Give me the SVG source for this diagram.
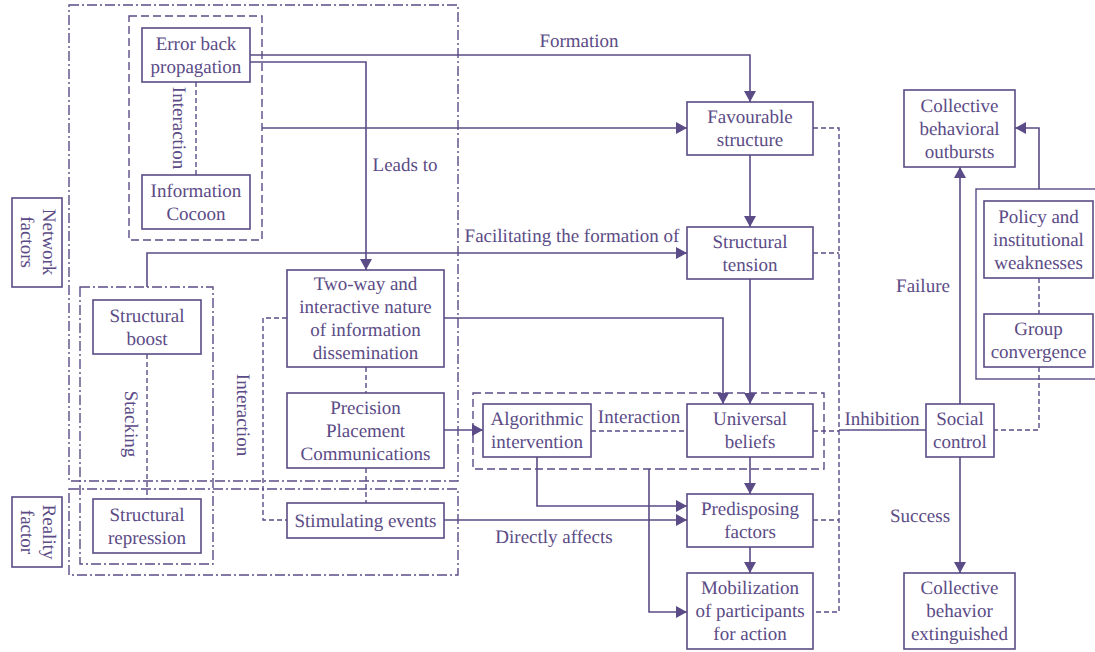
<svg xmlns="http://www.w3.org/2000/svg" width="1095" height="652" viewBox="0 0 1095 652" font-family="Liberation Serif, Times New Roman, serif">
<defs>
<marker id="arr" markerUnits="userSpaceOnUse" markerWidth="11" markerHeight="12" refX="11" refY="6" orient="auto">
<path d="M0,0 L11,6 L0,12 z" fill="#5b4b86"/>
</marker>
<style>
text{font-family:"Liberation Serif","Times New Roman",serif;font-size:19px;fill:#5b4b86;text-anchor:middle;text-rendering:geometricPrecision}
.box{fill:#fff;stroke:#5b4b86;stroke-width:1.6}
.grp{fill:none;stroke:#5b4b86;stroke-width:1.4}
.dd{stroke-dasharray:10 3 2 3}
.ds{stroke-dasharray:8 4}
.ln{fill:none;stroke:#5b4b86;stroke-width:1.6}
.dl{fill:none;stroke:#5b4b86;stroke-width:1.4;stroke-dasharray:5 3}
.ar{marker-end:url(#arr)}
</style>
</defs>
<rect width="1095" height="652" fill="#fff"/>

<g id="groups">
<rect class="grp dd" x="69" y="5" width="389" height="476"/>
<rect class="grp dd" x="69" y="489" width="389" height="86"/>
<rect class="grp dd" x="80" y="287" width="133" height="277"/>
<rect class="grp ds" x="129" y="16" width="133" height="224"/>
<rect class="grp ds" x="473" y="393" width="351" height="76"/>
<rect class="grp" x="976" y="189" width="130" height="190"/>
</g>

<g id="connectors">
<path class="ln ar" d="M250,55 H750 V102"/>
<path class="ln ar" d="M250,62 H366 V270"/>
<path class="ln ar" d="M262,128 H687"/>
<path class="ln ar" d="M750,155 V227"/>
<path class="ln ar" d="M147,287 V253 H687"/>
<path class="ln ar" d="M750,279 V404"/>
<path class="ln ar" d="M444,318 H723 V404"/>
<path class="ln ar" d="M444,430 H483"/>
<path class="ln ar" d="M444,520 H687"/>
<path class="ln ar" d="M537,457 V506 H687"/>
<path class="ln ar" d="M649,469 V612 H687"/>
<path class="ln ar" d="M750,457 V494"/>
<path class="ln ar" d="M750,547 V573"/>
<path class="ln ar" d="M960,404 V167"/>
<path class="ln ar" d="M960,457 V573"/>
<path class="ln ar" d="M1039,189 V128 H1015"/>
<path class="ln" d="M839,430 H926"/>
<path class="dl" d="M196,82 V175"/>
<path class="dl" d="M147,354 V499"/>
<path class="dl" d="M366,367 V393"/>
<path class="dl" d="M366,468 V503"/>
<path class="dl" d="M287,318 H263 V520 H287"/>
<path class="dl" d="M591,431 H687"/>
<path class="dl" d="M813,128 H839 V612 H813"/>
<path class="dl" d="M813,253 H839"/>
<path class="dl" d="M813,431 H839"/>
<path class="dl" d="M813,520 H839"/>
<path class="dl" d="M1039,278 V314"/>
<path class="dl" d="M1039,367 V430 H994"/>
</g>

<g id="labels">
<text x="579" y="47">Formation</text>
<text x="405" y="171">Leads to</text>
<text x="572" y="242">Facilitating the formation of</text>
<text x="639" y="423">Interaction</text>
<text x="554" y="543">Directly affects</text>
<text x="882" y="425">Inhibition</text>
<text x="923" y="292">Failure</text>
<text x="920" y="522">Success</text>
<text transform="translate(179,128) rotate(90)" y="6">Interaction</text>
<text transform="translate(131,424) rotate(90)" y="6">Stacking</text>
<text transform="translate(243,415) rotate(90)" y="6">Interaction</text>
</g>

<g id="network-factors">
<rect class="box" x="12" y="198" width="50" height="89"/>
<text transform="translate(49,242) rotate(90)" y="6">Network</text>
<text transform="translate(27,242) rotate(90)" y="6">factors</text>
</g>
<g id="reality-factor">
<rect class="box" x="12" y="497" width="50" height="70"/>
<text transform="translate(49,532) rotate(90)" y="6">Reality</text>
<text transform="translate(27,532) rotate(90)" y="6">factor</text>
</g>
<g id="error-back">
<rect class="box" x="142" y="28" width="108" height="54"/>
<text x="196" y="49.5">Error back</text>
<text x="196" y="72.5">propagation</text>
</g>
<g id="info-cocoon">
<rect class="box" x="142" y="175" width="108" height="54"/>
<text x="196" y="196.5">Information</text>
<text x="196" y="219.5">Cocoon</text>
</g>
<g id="structural-boost">
<rect class="box" x="93" y="300" width="108" height="54"/>
<text x="147" y="321.5">Structural</text>
<text x="147" y="344.5">boost</text>
</g>
<g id="structural-repression">
<rect class="box" x="93" y="499" width="108" height="54"/>
<text x="147" y="520.5">Structural</text>
<text x="147" y="543.5">repression</text>
</g>
<g id="two-way">
<rect class="box" x="287" y="270" width="157" height="97"/>
<text x="365.5" y="290">Two-way and</text>
<text x="365.5" y="313">interactive nature</text>
<text x="365.5" y="336">of information</text>
<text x="365.5" y="359">dissemination</text>
</g>
<g id="precision">
<rect class="box" x="287" y="393" width="157" height="75"/>
<text x="365.5" y="413.5">Precision</text>
<text x="365.5" y="436.5">Placement</text>
<text x="365.5" y="459.5">Communications</text>
</g>
<g id="stimulating">
<rect class="box" x="287" y="503" width="157" height="35"/>
<text x="365.5" y="527">Stimulating events</text>
</g>
<g id="favourable">
<rect class="box" x="687" y="102" width="126" height="53"/>
<text x="750" y="123">Favourable</text>
<text x="750" y="146">structure</text>
</g>
<g id="tension">
<rect class="box" x="687" y="227" width="126" height="52"/>
<text x="750" y="247.5">Structural</text>
<text x="750" y="270.5">tension</text>
</g>
<g id="algorithmic">
<rect class="box" x="483" y="404" width="108" height="53"/>
<text x="537" y="425">Algorithmic</text>
<text x="537" y="448">intervention</text>
</g>
<g id="universal">
<rect class="box" x="687" y="404" width="126" height="53"/>
<text x="750" y="425">Universal</text>
<text x="750" y="448">beliefs</text>
</g>
<g id="predisposing">
<rect class="box" x="687" y="494" width="126" height="53"/>
<text x="750" y="515">Predisposing</text>
<text x="750" y="538">factors</text>
</g>
<g id="mobilization">
<rect class="box" x="687" y="573" width="126" height="76"/>
<text x="750" y="594">Mobilization</text>
<text x="750" y="617">of participants</text>
<text x="750" y="640">for action</text>
</g>
<g id="outbursts">
<rect class="box" x="904" y="90" width="111" height="77"/>
<text x="959.5" y="111.5">Collective</text>
<text x="959.5" y="134.5">behavioral</text>
<text x="959.5" y="157.5">outbursts</text>
</g>
<g id="policy">
<rect class="box" x="984" y="201" width="109" height="77"/>
<text x="1038.5" y="222.5">Policy and</text>
<text x="1038.5" y="245.5">institutional</text>
<text x="1038.5" y="268.5">weaknesses</text>
</g>
<g id="convergence">
<rect class="box" x="984" y="314" width="109" height="53"/>
<text x="1038.5" y="335">Group</text>
<text x="1038.5" y="358">convergence</text>
</g>
<g id="social-control">
<rect class="box" x="926" y="404" width="68" height="53"/>
<text x="960" y="425">Social</text>
<text x="960" y="448">control</text>
</g>
<g id="extinguished">
<rect class="box" x="904" y="573" width="111" height="76"/>
<text x="959.5" y="594">Collective</text>
<text x="959.5" y="617">behavior</text>
<text x="959.5" y="640">extinguished</text>
</g>
</svg>
